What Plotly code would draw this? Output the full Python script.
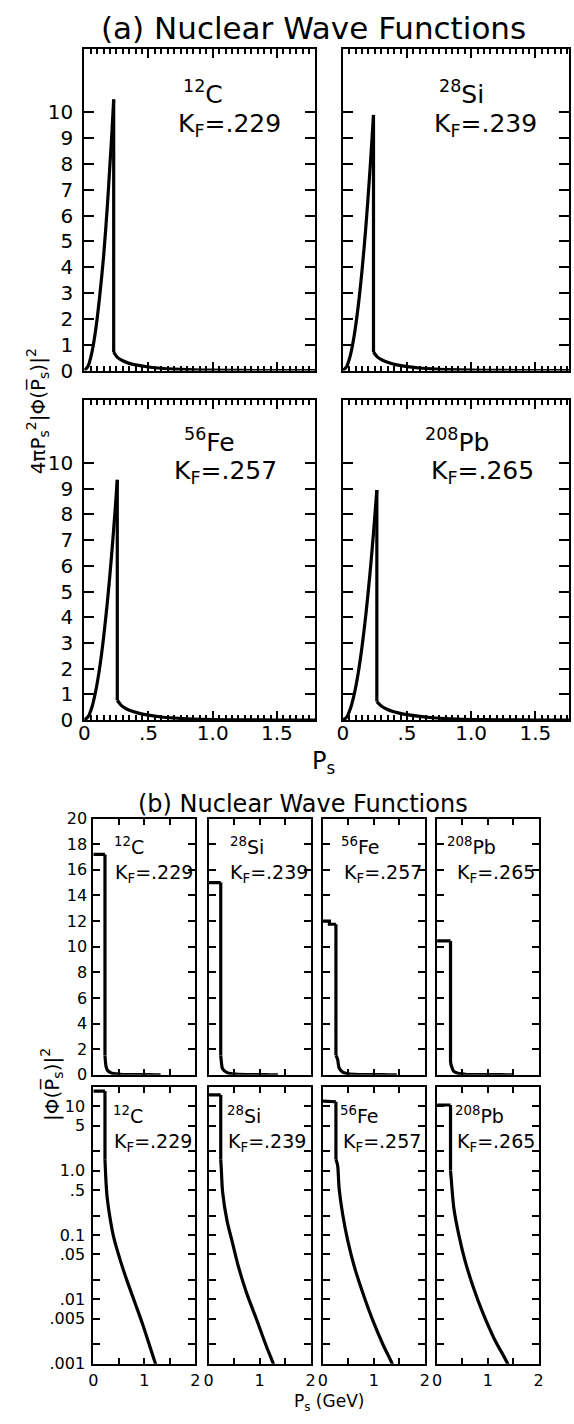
import plotly.graph_objects as go

W, H = 574, 1424
FONT = "DejaVu Sans"

# ---- nuclei and Fermi momenta ----
nuclei = ["<sup>12</sup>C", "<sup>28</sup>Si", "<sup>56</sup>Fe", "<sup>208</sup>Pb"]
kf_text = [".229", ".239", ".257", ".265"]

# ---- (a) 4 pi P_s^2 |Phi(P_s)|^2 ----
c_a_p = [0, .03, .06, .09, .12, .15, .18, .20, .215, .229, .229, .26, .30, .35, .40, .50, .60, .70, .80, 1.0, 1.2, 1.5, 1.8]
c_a_v = [0, .18, .72, 1.62, 2.88, 4.4, 6.4, 8.0, 9.2, 10.5, .72, .50, .38, .28, .22, .14, .09, .058, .036, .015, .006, .002, .001]

si_a_p = [0, .03, .06, .09, .12, .15, .18, .21, .225, .239, .239, .27, .31, .36, .41, .50, .60, .70, .80, 1.0, 1.2, 1.5, 1.8]
si_a_v = [0, .16, .62, 1.4, 2.5, 3.9, 5.6, 7.65, 8.8, 9.9, .72, .52, .40, .30, .23, .15, .10, .065, .04, .017, .007, .002, .001]

fe_a_p = [0, .03, .06, .09, .12, .15, .18, .21, .24, .257, .257, .29, .33, .38, .43, .50, .60, .70, .80, 1.0, 1.2, 1.5, 1.8]
fe_a_v = [0, .13, .51, 1.15, 2.04, 3.2, 4.6, 6.25, 8.15, 9.35, .77, .56, .43, .33, .26, .19, .12, .08, .05, .02, .008, .003, .001]

pb_a_p = [0, .03, .06, .09, .12, .15, .18, .21, .24, .265, .265, .30, .34, .39, .44, .50, .60, .70, .80, 1.0, 1.2, 1.5, 1.8]
pb_a_v = [0, .11, .46, 1.03, 1.83, 2.87, 4.13, 5.62, 7.34, 8.95, .72, .55, .43, .33, .27, .21, .14, .09, .055, .022, .009, .003, .001]

# ---- (b) |Phi(P_s)|^2 ----
c_b_p = [0, .229, .229, .249, .274, .339, .402, .531, .657, .818, .977, 1.22, 1.32]
c_b_v = [17.2, 17.2, 1.5, .67, .37, .164, .091, .040, .0199, .0088, .0039, .001, .0006]

si_b_p = [0, .239, .239, .25, .275, .364, .46, .588, .747, .94, 1.13, 1.27, 1.36]
si_b_v = [15.0, 15.0, 1.5, 1.07, .47, .164, .081, .0318, .0125, .0049, .0019, .001, .0006]

fe_b_p = [0, .13, .13, .257, .257, .29, .32, .39, .49, .62, .81, 1.0, 1.19, 1.36, 1.45]
fe_b_v = [12.0, 12.0, 11.75, 11.75, 1.5, 1.21, .53, .208, .081, .0318, .011, .0043, .0019, .001, .0006]

pb_b_p = [0, .265, .265, .278, .33, .425, .55, .71, .90, 1.13, 1.39, 1.48]
pb_b_v = [10.45, 10.45, 1.0, .755, .262, .103, .040, .0157, .0062, .0024, .001, .0006]

a_series = [(c_a_p, c_a_v), (si_a_p, si_a_v), (fe_a_p, fe_a_v), (pb_a_p, pb_a_v)]
b_series = [(c_b_p, c_b_v), (si_b_p, si_b_v), (fe_b_p, fe_b_v), (pb_b_p, pb_b_v)]

# axis tick positions / labels
a_xmajor = [0, 0.5, 1.0, 1.5]
a_xsmall = [round(0.05 * i, 2) for i in range(37)]
a_xlabels = {0: "0", 0.5: ".5", 1.0: "1.0", 1.5: "1.5"}
a_yticks = list(range(0, 11))
b_xticks = [0, 0.5, 1.0, 1.5, 2.0]
b_xtext = ["0", "", "1", "", "2"]
b_lin_ticks = list(range(0, 21, 2))
b_log_ticks = [10, 5, 2, 1, .5, .2, .1, .05, .02, .01, .005, .002, .001]
b_log_text = ["10", "5", "", "1.0", ".5", "", "0.1", ".05", "", ".01", ".005", "", ".001"]


def xd(left, right):
    return [left / W, min(right / W, 1.0)]


def yd(top, bottom):
    return [1 - bottom / H, 1 - top / H]


fig = go.Figure()
layout = {}
annotations = []
base = dict(showline=True, linecolor="black", linewidth=2, mirror="ticks",
            ticks="inside", tickcolor="black", tickwidth=2, showgrid=False,
            zeroline=False, tickfont=dict(family=FONT, color="black"))


def last_drop(xs):
    # index of the last vertical step (two consecutive equal momenta)
    j = 0
    for i in range(len(xs) - 1):
        if xs[i] == xs[i + 1]:
            j = i
    return j


def add_panel(n, xdom, ydom, xs, ys, xax, yax, smooth_head):
    xk = "xaxis" if n == 1 else f"xaxis{n}"
    yk = "yaxis" if n == 1 else f"yaxis{n}"
    xr = "x" if n == 1 else f"x{n}"
    yr = "y" if n == 1 else f"y{n}"
    layout[xk] = dict(base, domain=xdom, anchor=yr, **xax)
    layout[yk] = dict(base, domain=ydom, anchor=xr, **yax)
    j = last_drop(xs)
    parts = [(xs[:j + 1], ys[:j + 1], "spline" if smooth_head else "linear"),
             (xs[j:j + 2], ys[j:j + 2], "linear"),
             (xs[j + 1:], ys[j + 1:], "spline")]
    for px, py, shape in parts:
        fig.add_trace(go.Scatter(x=px, y=py, mode="lines", xaxis=xr, yaxis=yr,
                                 line=dict(color="black", width=3.2,
                                           shape=shape, smoothing=0.8),
                                 hoverinfo="skip"))
    return xr, yr


def note(text, x, y, size, angle=0, yanchor="middle"):
    annotations.append(dict(text=text, x=x / W, y=1 - y / H, xref="paper",
                            yref="paper", showarrow=False, xanchor="center",
                            yanchor=yanchor, textangle=angle,
                            font=dict(family=FONT, size=size, color="black")))


# ---------- (a) ----------
a_cols = [(79.8, 315.5, 1.8), (343.4, 579.0, 1.8)]
a_rows = [(40.7, 367.0), (397.0, 721.7)]
a_refs = []
n = 0
for r, (top, bot) in enumerate(a_rows):
    for c, (left, right, xmax) in enumerate(a_cols):
        k = r * 2 + c
        n += 1
        vis_right = min(right, W)
        xr_max = xmax * (vis_right - left) / (right - left)
        xax = dict(range=[0, xr_max], tickvals=a_xsmall,
                   ticktext=[a_xlabels.get(v, "") for v in a_xsmall],
                   ticklen=5, tickwidth=1.5, showticklabels=(r == 1),
                   tickfont=dict(family=FONT, size=20, color="black"),
                   ticklabelstandoff=-6)
        yax = dict(range=[0, 12.45], tickvals=a_yticks, ticklen=10,
                   showticklabels=(c == 0),
                   tickfont=dict(family=FONT, size=20, color="black"),
                   ticklabelstandoff=5)
        xs, ys = a_series[k]
        xr, yr = add_panel(n, xd(left, right), yd(top, bot), xs, ys, xax, yax, True)
        a_refs.append((xr, yr, xr_max))

# (a) panel labels
a_lab = [((201, 85), (228, 118)), ((464, 85), (489, 118)),
         ((207, 438), (224, 470)), ((460, 438), (486, 470))]
for k, ((nx, ny), (kx, ky)) in enumerate(a_lab):
    note(nuclei[k], nx, ny, 25)
    note("K<sub>F</sub>=" + kf_text[k], kx, ky, 25)

note("(a) Nuclear Wave Functions", 313, 19, 31)
note("P<sub>s</sub>", 324, 765, 24)
note("4\u03c0P<sub>s</sub><sup>2</sup>|\u03a6(P\u0305<sub>s</sub>)|<sup>2</sup>",
     33, 408, 20, -90)

# ---------- (b) ----------
b_cols = [(89.0, 193.0), (206.5, 310.5), (323.0, 427.0), (439.5, 543.0)]
b_rows = [(821.7, 1081.7, "linear"), (1094.0, 1375.0, "log")]
for r, (top, bot, kind) in enumerate(b_rows):
    for c, (left, right) in enumerate(b_cols):
        n += 1
        xax = dict(range=[0, 2], tickvals=b_xticks, ticktext=b_xtext,
                   ticklen=6, showticklabels=(r == 1),
                   tickfont=dict(family=FONT, size=16, color="black"),
                   ticklabelstandoff=1)
        if kind == "linear":
            yax = dict(range=[0, 20], tickvals=b_lin_ticks, ticklen=7,
                       showticklabels=(c == 0),
                       tickfont=dict(family=FONT, size=16, color="black"),
                       ticklabelstandoff=1)
        else:
            yax = dict(type="log", range=[-3, 1.301], tickvals=b_log_ticks,
                       ticktext=b_log_text, ticklen=7,
                       showticklabels=(c == 0),
                       tickfont=dict(family=FONT, size=16, color="black"),
                       ticklabelstandoff=3)
        xs, ys = b_series[c]
        add_panel(n, xd(left, right), yd(top, bot), xs, ys, xax, yax, False)

# longer ticks at every 0.5 on the (a) panels, on overlaid x axes
for xr, yr, xr_max in a_refs:
    n += 1
    layout[f"xaxis{n}"] = dict(overlaying=xr, anchor=yr, range=[0, xr_max],
                               tickvals=a_xmajor, ticks="inside", ticklen=9,
                               tickwidth=2, tickcolor="black", mirror="ticks",
                               showline=True, linecolor="black", linewidth=2,
                               showticklabels=False, showgrid=False,
                               zeroline=False)
    fig.add_trace(go.Scatter(x=[None], y=[None], mode="lines",
                             xaxis=f"x{n}", yaxis=yr, hoverinfo="skip"))

b_lab_top = [((125.5, 850), (151, 877)), ((245.5, 850), (268, 877)),
             ((361.5, 850), (384, 877)), ((475, 850), (500, 877))]
b_lab_bot = [((124.5, 1123), (150, 1150)), ((242.5, 1123), (266, 1150)),
             ((360.5, 1123), (383.5, 1150)), ((483, 1123), (499.5, 1150))]
for labs in (b_lab_top, b_lab_bot):
    for k, ((nx, ny), (kx, ky)) in enumerate(labs):
        note(nuclei[k], nx, ny, 19)
        note("K<sub>F</sub>=" + kf_text[k], kx, ky, 19)

note("(b) Nuclear Wave Functions", 303, 807, 24)
note("P<sub>s</sub> (GeV)", 329, 1401, 17, yanchor="top")
note("|\u03a6(P\u0305<sub>s</sub>)|<sup>2</sup>", 47, 1092, 20, -90)

fig.update_layout(width=W, height=H, margin=dict(l=0, r=0, t=0, b=0),
                  paper_bgcolor="white", plot_bgcolor="white",
                  showlegend=False, annotations=annotations, **layout)

fig.write_html("out.html")
